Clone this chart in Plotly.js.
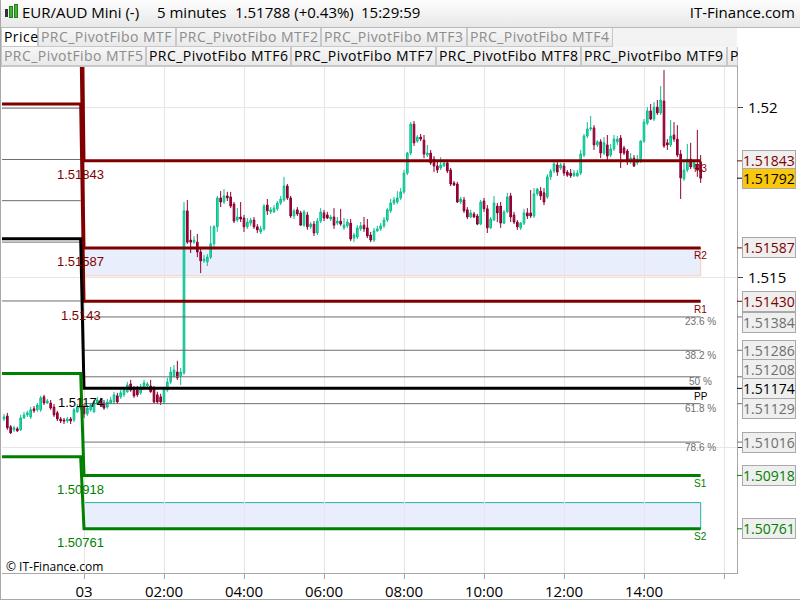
<!DOCTYPE html>
<html><head><meta charset="utf-8">
<script src="https://cdn.plot.ly/plotly-3.0.1.min.js"></script>
<style>
html,body{margin:0;padding:0;background:#fff;}
#wrap{position:relative;width:800px;height:600px;overflow:hidden;font-family:"Open Sans","Noto Sans",sans-serif;}
#chart{position:absolute;left:0;top:0;width:800px;height:600px;}
.hdr{position:absolute;left:0;top:0;width:800px;height:27px;background:linear-gradient(#fdfdfd,#e8e8e8);border-bottom:1px solid #b8b8b8;z-index:5;}
.hdr span{position:absolute;top:2px;font-size:15px;line-height:21px;color:#000;white-space:nowrap;}
.tabs{position:absolute;left:0;width:737px;height:19px;background:#f3f3f3;z-index:5;border-bottom:1px solid #c8c8c8;}
.tab{position:absolute;top:0;height:19px;box-sizing:border-box;border:1px solid #c8c8c8;border-top:none;background:linear-gradient(#f7f7f7,#e9e9e9);font-size:14px;letter-spacing:0.45px;line-height:18px;padding-left:2px;white-space:nowrap;color:#000;}
.tab.g{color:#8c8c8c;}
.tab.w{background:#fff;}
.frame{position:absolute;left:0;top:0;width:800px;height:600px;box-sizing:border-box;border-left:1px solid #a8a8a8;border-bottom:1px solid #a8a8a8;z-index:6;pointer-events:none;}
.icon{position:absolute;top:7px;width:3px;}
</style></head>
<body><div id="wrap">
<div id="chart"></div>
<div class="hdr">
  <div class="icon" style="left:5px;top:9px;height:8px;background:#333;"></div>
  <div class="icon" style="left:9px;top:6px;height:12px;background:#3cb832;width:4px;border:1px solid #2a7a22;box-sizing:border-box;"></div>
  <div class="icon" style="left:14px;top:4px;height:14px;background:#3cb832;width:4px;border:1px solid #2a7a22;box-sizing:border-box;"></div>
  <span id="hTitle" style="left:22px;"></span>
  <span id="hTf" style="left:157px;"></span>
  <span id="hPx" style="left:235px;"></span>
  <span id="hTime" style="left:361px;"></span>
  <span id="hSite" style="right:5px;"></span>
</div>
<div class="tabs" id="row1" style="top:28px;"></div>
<div class="tabs" id="row2" style="top:47px;"></div>
<div class="frame"></div>
</div>
<script>
// ---------------- data ----------------
const symbolTitle = 'EUR/AUD Mini (-)';
const timeframe = '5 minutes';
const lastQuote = '1.51788 (+0.43%)';
const clockText = '15:29:59';
const siteName = 'IT-Finance.com';
const tabsRow1 = ['Price','PRC_PivotFibo MTF','PRC_PivotFibo MTF2','PRC_PivotFibo MTF3','PRC_PivotFibo MTF4'];
const tabsRow2 = ['PRC_PivotFibo MTF5','PRC_PivotFibo MTF6','PRC_PivotFibo MTF7','PRC_PivotFibo MTF8','PRC_PivotFibo MTF9','P'];

// bar times: minutes relative to 00:00 of day 03 (5-minute bars)
const firstBarMinute = -120;
const barMinutes = 5;

const open = [
1.51084,1.51093,1.51061,1.51052,1.51055,1.51052,1.51087,1.51096,1.51090,1.51114,
1.51111,1.51111,1.51149,1.51131,1.51131,1.51119,1.51102,1.51084,1.51081,1.51078,
1.51084,1.51081,1.51105,1.51116,1.51119,1.51099,1.51111,1.51105,1.51131,1.51137,
1.51131,1.51119,1.51131,1.51134,1.51152,1.51149,1.51155,1.51164,1.51187,1.51172,
1.51169,1.51161,1.51175,1.51181,1.51181,1.51175,1.51155,1.51149,1.51134,1.51169,
1.51193,1.51211,1.51222,1.51211,1.51219,1.51696,1.51610,1.51604,1.51604,1.51575,
1.51549,1.51546,1.51560,1.51599,1.51649,1.51734,1.51722,1.51740,1.51737,1.51716,
1.51669,1.51678,1.51675,1.51649,1.51660,1.51669,1.51649,1.51634,1.51643,1.51713,
1.51693,1.51693,1.51702,1.51719,1.51728,1.51769,1.51734,1.51681,1.51699,1.51690,
1.51654,1.51684,1.51649,1.51657,1.51631,1.51666,1.51690,1.51684,1.51672,1.51678,
1.51660,1.51666,1.51646,1.51652,1.51660,1.51616,1.51619,1.51643,1.51654,1.51646,
1.51625,1.51610,1.51637,1.51643,1.51652,1.51669,1.51696,1.51719,1.51722,1.51734,
1.51752,1.51807,1.51866,1.51951,1.51901,1.51913,1.51904,1.51860,1.51866,1.51848,
1.51828,1.51822,1.51828,1.51837,1.51816,1.51778,1.51775,1.51722,1.51728,1.51699,
1.51678,1.51687,1.51681,1.51657,1.51725,1.51702,1.51646,1.51669,1.51710,1.51710,
1.51660,1.51693,1.51740,1.51684,1.51663,1.51646,1.51660,1.51690,1.51690,1.51681,
1.51746,1.51754,1.51749,1.51737,1.51796,1.51813,1.51831,1.51822,1.51828,1.51810,
1.51807,1.51799,1.51799,1.51807,1.51860,1.51916,1.51937,1.51940,1.51890,1.51899,
1.51866,1.51890,1.51860,1.51878,1.51899,1.51910,1.51881,1.51872,1.51840,1.51851,
1.51837,1.51846,1.51901,1.51954,1.51990,1.51966,1.52001,1.51984,1.52019,1.51896,
1.51890,1.51919,1.51907,1.51863,1.51790,1.51816,1.51848,1.51825,1.51831,1.51840];
const high = [
1.51099,1.51102,1.51066,1.51064,1.51061,1.51096,1.51105,1.51108,1.51119,1.51122,
1.51131,1.51152,1.51155,1.51143,1.51140,1.51128,1.51108,1.51090,1.51087,1.51090,
1.51090,1.51116,1.51128,1.51137,1.51128,1.51125,1.51131,1.51140,1.51149,1.51146,
1.51140,1.51143,1.51149,1.51164,1.51161,1.51169,1.51178,1.51193,1.51199,1.51181,
1.51181,1.51187,1.51199,1.51193,1.51199,1.51181,1.51164,1.51158,1.51178,1.51205,
1.51237,1.51243,1.51255,1.51234,1.51722,1.51728,1.51640,1.51622,1.51628,1.51587,
1.51566,1.51569,1.51652,1.51654,1.51740,1.51754,1.51760,1.51752,1.51752,1.51722,
1.51704,1.51722,1.51684,1.51675,1.51675,1.51678,1.51657,1.51652,1.51716,1.51731,
1.51707,1.51713,1.51725,1.51740,1.51796,1.51775,1.51740,1.51702,1.51707,1.51696,
1.51699,1.51693,1.51663,1.51666,1.51675,1.51704,1.51699,1.51693,1.51684,1.51704,
1.51678,1.51702,1.51675,1.51672,1.51672,1.51631,1.51654,1.51663,1.51678,1.51672,
1.51634,1.51646,1.51652,1.51660,1.51678,1.51704,1.51731,1.51737,1.51754,1.51763,
1.51816,1.51869,1.51957,1.51960,1.51919,1.51922,1.51919,1.51890,1.51875,1.51857,
1.51846,1.51854,1.51846,1.51846,1.51822,1.51784,1.51781,1.51737,1.51737,1.51707,
1.51699,1.51693,1.51687,1.51728,1.51734,1.51713,1.51678,1.51740,1.51719,1.51722,
1.51699,1.51749,1.51749,1.51693,1.51669,1.51663,1.51702,1.51704,1.51757,1.51763,
1.51763,1.51766,1.51763,1.51804,1.51819,1.51846,1.51846,1.51837,1.51837,1.51816,
1.51819,1.51816,1.51816,1.51875,1.51922,1.51957,1.51975,1.51948,1.51904,1.51907,
1.51913,1.51919,1.51893,1.51919,1.51916,1.51919,1.51887,1.51878,1.51866,1.51860,
1.51860,1.51904,1.51966,1.52001,1.52010,1.52016,1.52022,1.52063,1.52110,1.51907,
1.51963,1.51957,1.51948,1.51875,1.51846,1.51893,1.51896,1.51846,1.51934,1.51860];
const low = [
1.51078,1.51052,1.51040,1.51046,1.51046,1.51049,1.51084,1.51090,1.51084,1.51102,
1.51105,1.51105,1.51125,1.51128,1.51111,1.51090,1.51078,1.51072,1.51069,1.51072,
1.51069,1.51075,1.51102,1.51111,1.51087,1.51093,1.51105,1.51102,1.51125,1.51119,
1.51111,1.51114,1.51128,1.51128,1.51128,1.51143,1.51149,1.51161,1.51164,1.51146,
1.51149,1.51155,1.51169,1.51175,1.51161,1.51128,1.51128,1.51125,1.51128,1.51164,
1.51187,1.51205,1.51199,1.51184,1.51214,1.51599,1.51572,1.51599,1.51560,1.51513,
1.51543,1.51534,1.51554,1.51590,1.51634,1.51707,1.51716,1.51725,1.51704,1.51660,
1.51663,1.51663,1.51634,1.51643,1.51652,1.51643,1.51631,1.51628,1.51637,1.51684,
1.51687,1.51690,1.51696,1.51713,1.51722,1.51728,1.51675,1.51672,1.51681,1.51652,
1.51649,1.51640,1.51643,1.51622,1.51625,1.51660,1.51666,1.51672,1.51666,1.51643,
1.51654,1.51652,1.51640,1.51646,1.51607,1.51604,1.51613,1.51637,1.51634,1.51616,
1.51604,1.51604,1.51634,1.51637,1.51646,1.51663,1.51690,1.51713,1.51716,1.51728,
1.51746,1.51801,1.51860,1.51887,1.51896,1.51901,1.51851,1.51854,1.51831,1.51810,
1.51807,1.51816,1.51825,1.51807,1.51769,1.51769,1.51719,1.51716,1.51690,1.51672,
1.51675,1.51675,1.51654,1.51654,1.51693,1.51631,1.51643,1.51666,1.51663,1.51646,
1.51657,1.51690,1.51663,1.51657,1.51640,1.51640,1.51654,1.51672,1.51675,1.51675,
1.51740,1.51728,1.51713,1.51731,1.51787,1.51807,1.51799,1.51816,1.51799,1.51796,
1.51793,1.51796,1.51796,1.51801,1.51854,1.51910,1.51931,1.51875,1.51884,1.51851,
1.51860,1.51843,1.51854,1.51872,1.51890,1.51822,1.51860,1.51831,1.51834,1.51825,
1.51831,1.51837,1.51896,1.51948,1.51963,1.51960,1.51978,1.51978,1.51881,1.51875,
1.51884,1.51899,1.51854,1.51731,1.51784,1.51810,1.51819,1.51819,1.51796,1.51778];
const close = [
1.51090,1.51058,1.51043,1.51058,1.51049,1.51087,1.51096,1.51102,1.51111,1.51108,
1.51125,1.51146,1.51131,1.51137,1.51116,1.51096,1.51084,1.51078,1.51078,1.51084,
1.51078,1.51111,1.51119,1.51128,1.51099,1.51116,1.51125,1.51134,1.51140,1.51125,
1.51116,1.51134,1.51140,1.51155,1.51134,1.51161,1.51169,1.51184,1.51169,1.51152,
1.51155,1.51178,1.51190,1.51187,1.51164,1.51134,1.51134,1.51134,1.51169,1.51193,
1.51222,1.51228,1.51205,1.51222,1.51696,1.51604,1.51604,1.51610,1.51575,1.51549,
1.51554,1.51560,1.51599,1.51649,1.51734,1.51722,1.51740,1.51734,1.51710,1.51666,
1.51678,1.51672,1.51649,1.51663,1.51669,1.51649,1.51640,1.51643,1.51710,1.51696,
1.51699,1.51704,1.51719,1.51731,1.51769,1.51734,1.51681,1.51696,1.51687,1.51654,
1.51693,1.51649,1.51657,1.51631,1.51666,1.51693,1.51675,1.51675,1.51678,1.51654,
1.51666,1.51657,1.51654,1.51663,1.51613,1.51625,1.51646,1.51652,1.51643,1.51622,
1.51610,1.51637,1.51643,1.51652,1.51669,1.51699,1.51719,1.51728,1.51734,1.51752,
1.51807,1.51866,1.51951,1.51896,1.51913,1.51907,1.51863,1.51866,1.51837,1.51828,
1.51816,1.51831,1.51837,1.51813,1.51775,1.51772,1.51722,1.51731,1.51696,1.51678,
1.51690,1.51678,1.51657,1.51722,1.51702,1.51646,1.51672,1.51719,1.51690,1.51660,
1.51693,1.51737,1.51678,1.51663,1.51649,1.51660,1.51690,1.51681,1.51681,1.51746,
1.51760,1.51740,1.51722,1.51796,1.51813,1.51834,1.51810,1.51831,1.51807,1.51801,
1.51799,1.51807,1.51807,1.51863,1.51916,1.51937,1.51940,1.51890,1.51899,1.51866,
1.51896,1.51857,1.51878,1.51907,1.51907,1.51866,1.51866,1.51840,1.51851,1.51828,
1.51848,1.51901,1.51957,1.51990,1.51966,1.52001,1.51984,1.52022,1.51887,1.51890,
1.51916,1.51907,1.51860,1.51793,1.51816,1.51848,1.51825,1.51840,1.51816,1.51792];

// Fibonacci pivot levels: previous day / current day (03)
const levelNames   = ['R3','R2','R1','PP','S1','S2'];
const prevLevels   = [1.52651, 1.52255, 1.52010, 1.51614, 1.51218, 1.50973];
const currLevels   = [1.51843, 1.51587, 1.51430, 1.51174, 1.50918, 1.50761];
const fiboNames    = ['23.6 %','38.2 %','50 %','61.8 %','78.6 %'];
const prevFibo     = [1.51998, 1.51847, 1.51726, 1.51604, 1.51431];
const currFibo     = [1.51384, 1.51286, 1.51208, 1.51129, 1.51016];
const zoneLow      = [1.51505, 1.50761];
const zoneHigh     = [1.51587, 1.50838];
const lastPrice    = 1.51792;

// axes
const xTickVals  = [0, 120, 240, 360, 480, 600, 720, 840, 960];
const xTickText  = ['03','02:00','04:00','06:00','08:00','10:00','12:00','14:00',''];
const yTickVals  = [1.51, 1.515, 1.52];
const yTickText  = ['', '1.515', '1.52'];

// ---------------- styles ----------------
const levelColors  = ['#800000','#800000','#800000','#000000','#008000','#008000'];
const zoneBorder   = ['#ffc9b3', '#27b3a6'];
const fiboBoxShift = [-6, 0, 7, -5, 0];   // px, keeps price boxes from colliding

// --------------- header ---------------
document.getElementById('hTitle').textContent = symbolTitle;
document.getElementById('hTf').textContent = timeframe;
document.getElementById('hPx').textContent = lastQuote;
document.getElementById('hTime').textContent = clockText;
document.getElementById('hSite').textContent = siteName;
const row1Pos = [[1,37,'w'],[38,138,'g'],[176,145,'g'],[321,146,'g'],[467,146,'g']];
const row2Pos = [[1,145,'g'],[146,145,''],[291,145,''],[436,145,''],[581,146,''],[727,11,'']];
function buildTabs(id, names, pos){
  const row = document.getElementById(id);
  names.forEach((n,i)=>{
    const d = document.createElement('div');
    d.className = 'tab ' + pos[i][2];
    d.style.left = pos[i][0] + 'px';
    d.style.width = pos[i][1] + 'px';
    d.textContent = n;
    row.appendChild(d);
  });
}
buildTabs('row1', tabsRow1, row1Pos);
buildTabs('row2', tabsRow2, row2Pos);

// --------------- chart ---------------
const xs = open.map((_, i) => firstBarMinute + i * barMinutes);
const dayStart = 0;
const prevEnd = xs.filter(v => v < dayStart).slice(-1)[0];
const lastX = xs[xs.length - 1];
const leftX = xs[0] - 10;

const traces = [];
const annotations = [];
const shapes = [];
const lblFont = 'Liberation Sans, Arial';

fiboNames.forEach((n, i) => {
  traces.push({type:'scatter', mode:'lines', hoverinfo:'skip', showlegend:false,
    x:[leftX, prevEnd, null, dayStart, lastX], y:[prevFibo[i], prevFibo[i], null, currFibo[i], currFibo[i]],
    line:{color:'#6e6e6e', width:1}});
  annotations.push({xref:'x', yref:'y', x:lastX, y:currFibo[i], yanchor:'middle', xanchor:'center',
    yshift:-5, text:n, showarrow:false, font:{family:lblFont, size:10, color:'#6e6e6e'}});
});
traces.push({type:'candlestick', x:xs, open:open, high:high, low:low, close:close,
  showlegend:false, whiskerwidth:0,
  increasing:{line:{color:'#0dbd90', width:1}, fillcolor:'#1ee6b4'},
  decreasing:{line:{color:'#8c0030', width:1}, fillcolor:'#a8003b'}});
levelNames.forEach((n, i) => {
  traces.push({type:'scatter', mode:'lines', hoverinfo:'skip', showlegend:false,
    x:[leftX, prevEnd, dayStart, lastX], y:[prevLevels[i], prevLevels[i], currLevels[i], currLevels[i]],
    line:{color:levelColors[i], width:3}});
  annotations.push({xref:'x', yref:'y', x:lastX, y:currLevels[i], yanchor:'middle', xanchor:'center',
    yshift:-8, text:n, showarrow:false, font:{family:lblFont, size:10, color:levelColors[i]}});
  annotations.push({xref:'x', yref:'y', x:prevEnd, y:currLevels[i], yanchor:'middle', xanchor:'center',
    yshift:-14, text:String(currLevels[i]), showarrow:false, font:{family:lblFont, size:13, color:levelColors[i]}});
});

zoneLow.forEach((lo, i) => {
  shapes.push({type:'rect', xref:'x', yref:'y', x0:dayStart, x1:lastX, y0:lo, y1:zoneHigh[i],
    fillcolor:'#e8eefc', line:{color:zoneBorder[i], width:1}, layer:'below'});
});

function boxLabel(v, color, bg, shift){
  annotations.push({xref:'paper', x:1, xanchor:'left', xshift:5, yref:'y', y:v, yanchor:'middle', yshift:shift,
    text:v.toFixed(5), showarrow:false, font:{family:'Open Sans, Noto Sans', size:14, color:color},
    bgcolor:bg, bordercolor:'#a9a9a9', borderwidth:1, borderpad:0});
  shapes.push({type:'line', xref:'paper', yref:'y', x0:1, x1:1.0068, y0:v, y1:v, line:{color:color, width:1}});
}
currFibo.forEach((v, i) => boxLabel(v, '#6e6e6e', '#efefef', fiboBoxShift[i]));
currLevels.forEach((v, i) => boxLabel(v, levelColors[i], '#efefef', 0));
boxLabel(lastPrice, '#000000', '#f9c80e', 0);
annotations.push({xref:'paper', yref:'paper', x:0, y:0, xanchor:'left', yanchor:'bottom', xshift:2, yshift:-4,
  text:'© IT-Finance.com', showarrow:false, font:{family:'Open Sans, Noto Sans', size:12, color:'#000'}});

const layout = {
  width:800, height:600,
  margin:{l:2, r:63, t:66, b:27, pad:0},
  paper_bgcolor:'#ffffff', plot_bgcolor:'#ffffff',
  showlegend:false,
  xaxis:{range:[-123, 979.5], tickmode:'array', tickvals:xTickVals, ticktext:xTickText,
    showgrid:true, gridcolor:'#e6e6e6', zeroline:false, showline:true, linecolor:'#a8a8a8',
    ticks:'outside', ticklen:5, tickcolor:'#a8a8a8', rangeslider:{visible:false},
    tickfont:{family:'Open Sans, Noto Sans', size:15, color:'#000'}, fixedrange:true},
  yaxis:{range:[1.50631, 1.52122], side:'right', tickmode:'array', tickvals:yTickVals, ticktext:yTickText,
    showgrid:true, gridcolor:'#e6e6e6', zeroline:false, showline:true, linecolor:'#a8a8a8',
    ticks:'outside', ticklen:5, tickcolor:'#444', ticklabelstandoff:2,
    tickfont:{family:'Open Sans, Noto Sans', size:15, color:'#000'}, fixedrange:true},
  shapes:shapes, annotations:annotations
};
Plotly.newPlot('chart', traces, layout, {displayModeBar:false, staticPlot:true});
</script>
</body></html>
